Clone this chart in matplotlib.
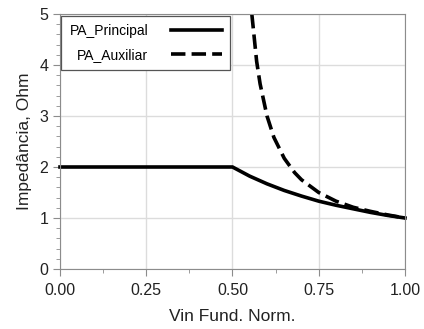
import matplotlib.pyplot as plt
from matplotlib.ticker import MultipleLocator

plt.rcParams['font.family'] = ['Liberation Sans', 'DejaVu Sans']

# values
vin_principal = [0.0, 0.10, 0.20, 0.30, 0.40, 0.50, 0.55, 0.60, 0.65, 0.70,
                 0.75, 0.80, 0.85, 0.90, 0.95, 1.00]
z_principal = [2.0, 2.0, 2.0, 2.0, 2.0, 2.0, 1.82, 1.67, 1.54, 1.43,
               1.33, 1.25, 1.18, 1.11, 1.05, 1.0]

vin_auxiliar = [0.556, 0.57, 0.58, 0.60, 0.62, 0.65, 0.68, 0.70, 0.75,
                0.80, 0.85, 0.90, 0.95, 1.00]
z_auxiliar = [5.0, 4.07, 3.63, 3.0, 2.58, 2.17, 1.89, 1.75, 1.5,
              1.33, 1.21, 1.13, 1.06, 1.0]

fig = plt.figure(figsize=(4.24, 3.29), dpi=100)
ax = fig.add_axes([60 / 424, 1 - 269 / 329, 345 / 424, 255 / 329])

ax.plot(vin_principal, z_principal, color='black', lw=2.6,
        solid_joinstyle='miter', label='PA_Principal', clip_on=False)
ax.plot(vin_auxiliar, z_auxiliar, color='black', lw=2.6,
        dashes=(4.0, 1.7), label='PA_Auxiliar')

ax.set_xlim(0, 1)
ax.set_ylim(0, 5)
ax.xaxis.set_major_locator(MultipleLocator(0.25))
ax.xaxis.set_minor_locator(MultipleLocator(0.125))
ax.yaxis.set_major_locator(MultipleLocator(1))
ax.yaxis.set_minor_locator(MultipleLocator(0.2))
ax.xaxis.set_major_formatter(lambda v, p: f'{v:.2f}')

ax.grid(True, which='major', color='#dcdcdc', lw=1)
ax.set_axisbelow(True)
for s in ax.spines.values():
    s.set_color('#8c8c8c')
ax.tick_params(which='both', colors='#8c8c8c', labelcolor='#222222',
               labelsize=11.5, direction='out')
ax.tick_params(which='major', length=5)
ax.tick_params(which='minor', length=3)
ax.tick_params(axis='x', pad=5)

ax.set_xlabel('Vin Fund. Norm.', fontsize=12.5, color='#222222', labelpad=8)
ax.set_ylabel('Impedância, Ohm', fontsize=12.5, color='#222222', labelpad=5)

leg = ax.legend(loc='upper left', bbox_to_anchor=(0.004, 0.993),
                markerfirst=False, handlelength=3.7, fontsize=10,
                fancybox=False, framealpha=1, borderaxespad=0,
                borderpad=0.6, labelspacing=0.7, handletextpad=1.6)
leg.get_frame().set_edgecolor('#555555')
leg.get_frame().set_linewidth(0.9)

fig.savefig('out.png', dpi=100)
